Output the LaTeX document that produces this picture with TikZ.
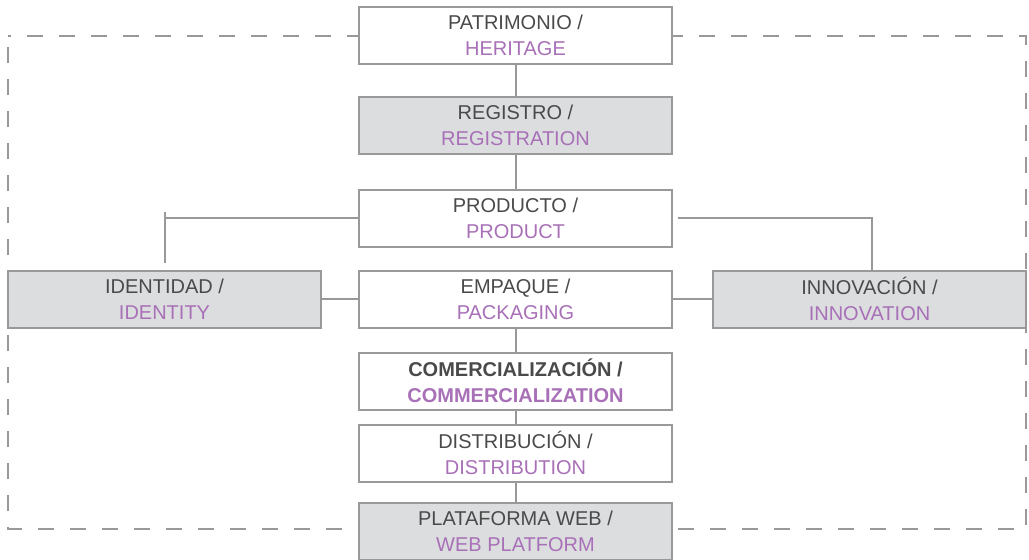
\documentclass[tikz,border=0pt]{standalone}
\usepackage{fontspec}
\setmainfont{Liberation Sans}
\definecolor{ink}{HTML}{4A4A4A}
\definecolor{lilac}{HTML}{A870B7}
\definecolor{edge}{HTML}{999999}
\definecolor{panel}{HTML}{DCDDDF}
\tikzset{
  card/.style={draw=edge, line width=2pt, fill=white, minimum width=313pt,
    minimum height=57pt, align=center, inner sep=0pt,
    font=\fontsize{20}{26}\selectfont, text=ink},
  shaded/.style={card, fill=panel},
  link/.style={draw=edge, line width=2pt},
  frame/.style={draw=edge, line width=1.8pt, dash pattern=on 16pt off 16pt, dash phase=13pt},
}
\newcommand{\en}[1]{\textcolor{lilac}{#1}}
\begin{document}
\begin{tikzpicture}[x=1pt,y=-1pt]
  \useasboundingbox (0,0) rectangle (1029,560);
  % outer dashed frame
  \draw[frame] (8,36) -- (1026,36) -- (1026,529) -- (8,529) -- cycle;
  % branch points
  \coordinate (ltop) at (165,212);
  \coordinate (lmid) at (165,218);
  \coordinate (lbot) at (165,263);
  \coordinate (rdrop) at (872,270);

  % boxes
  \node[card]   (pat)   at (515.5,35.5) {PATRIMONIO /\\\en{HERITAGE}};
  \node[shaded] (reg)   at (515.5,125.5) {REGISTRO /\\\en{REGISTRATION}};
  \node[card]   (prod)  at (515.5,218) {PRODUCTO /\\\en{PRODUCT}};
  \node[card]   (emp)   at (515.5,299) {EMPAQUE /\\\en{PACKAGING}};
  \node[shaded] (iden)  at (164.5,299) {IDENTIDAD /\\\en{IDENTITY}};
  \node[shaded] (innov) at (869.5,299) {INNOVACIÓN /\\\en{INNOVATION}};
  \node[card]   (com)   at (515.5,381) {\bfseries COMERCIALIZACIÓN /\\\bfseries\en{COMMERCIALIZATION}};
  \node[card]   (dist)  at (515.5,453) {DISTRIBUCIÓN /\\\en{DISTRIBUTION}};
  \node[shaded] (web)   at (515.5,531.5) {PLATAFORMA WEB /\\\en{WEB PLATFORM}};

  % connectors
  \draw[link] (pat) -- (reg);
  \draw[link] (reg) -- (prod);
  \draw[link] (emp) -- (com);
  \draw[link] (com) -- (dist);
  \draw[link] (dist) -- (web);
  \draw[link] (prod.west) -- (lmid);
  \draw[link] (ltop) -- (lbot);
  \draw[link, shorten <=5pt] (prod.east) -| (rdrop);
  \draw[link] (emp.west) -- (iden.east);
  \draw[link] (emp.east) -- (innov.west);
\end{tikzpicture}
\end{document}
